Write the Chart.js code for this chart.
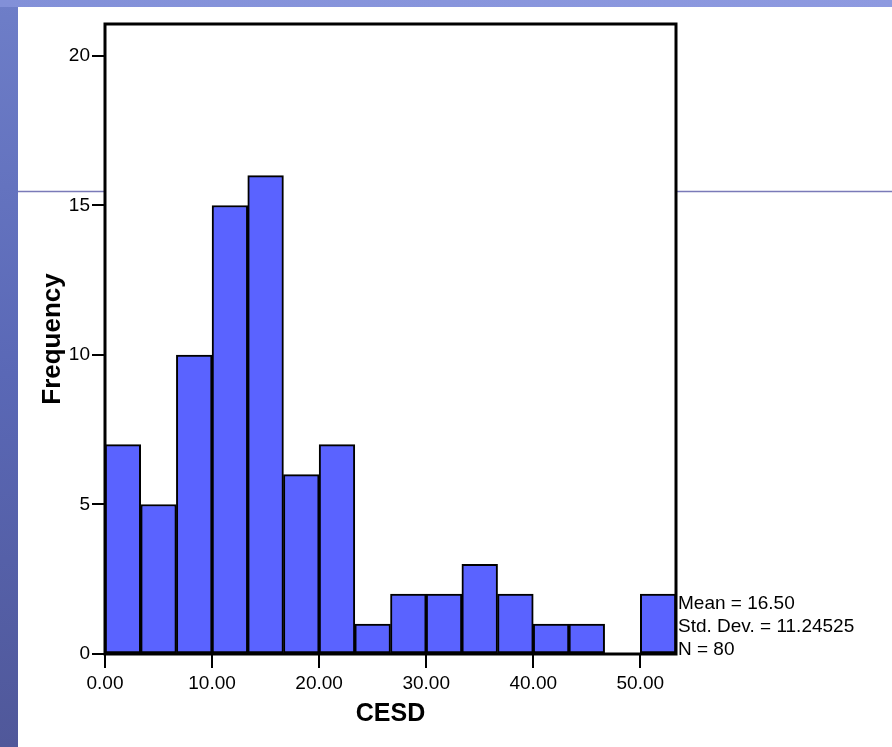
<!DOCTYPE html>
<html>
<head>
<meta charset="utf-8">
<script src="https://cdn.jsdelivr.net/npm/chart.js@4/dist/chart.umd.min.js"></script>
<style>
html,body{margin:0;padding:0;background:#fff;}
canvas{display:block;}
</style>
</head>
<body>
<canvas id="c" width="892" height="747"></canvas>
<script>
// ---- data ----
const binWidth = 10 / 3;
const frequencies = [7, 5, 10, 15, 16, 6, 7, 1, 2, 2, 3, 2, 1, 1, 0, 2];
const xTickValues = [0, 10, 20, 30, 40, 50];
const yTickValues = [0, 5, 10, 15, 20];
const statsLines = ['Mean = 16.50', 'Std. Dev. = 11.24525', 'N = 80'];
const xTitle = 'CESD';
const yTitle = 'Frequency';

const binCenters = frequencies.map((_, i) => (i + 0.5) * binWidth);
const points = frequencies.map((f, i) => ({ x: binCenters[i], y: f }));

const FONT = '"Liberation Sans", Arial, sans-serif';

const backgroundPlugin = {
  id: 'bg',
  beforeDraw(chart) {
    const ctx = chart.ctx;
    const W = chart.width, H = chart.height;
    ctx.save();
    ctx.fillStyle = '#ffffff';
    ctx.fillRect(0, 0, W, H);
    const g = ctx.createLinearGradient(0, 0, 0, H);
    g.addColorStop(0, '#6e7ec8');
    g.addColorStop(0.5, '#5a68b6');
    g.addColorStop(1, '#50589a');
    ctx.fillStyle = g;
    ctx.fillRect(0, 0, 18, H);
    const g2 = ctx.createLinearGradient(0, 0, W, 0);
    g2.addColorStop(0, '#8290d8');
    g2.addColorStop(1, '#8e9ae0');
    ctx.fillStyle = g2;
    ctx.fillRect(0, 0, W, 7);
    ctx.strokeStyle = '#7a7ab8';
    ctx.lineWidth = 1.5;
    ctx.beginPath();
    ctx.moveTo(18, 191.5); ctx.lineTo(chart.chartArea.left, 191.5);
    ctx.moveTo(chart.chartArea.right, 191.5); ctx.lineTo(W, 191.5);
    ctx.stroke();
    ctx.restore();
  },
  afterDatasetsDraw(chart) {
    const ctx = chart.ctx;
    const a = chart.chartArea;
    ctx.save();
    ctx.strokeStyle = '#000';
    ctx.lineWidth = 3;
    ctx.strokeRect(a.left, a.top, a.right - a.left, a.bottom - a.top);
    ctx.fillStyle = '#000';
    ctx.font = '19px ' + FONT;
    ctx.textBaseline = 'middle';
    ctx.textAlign = 'left';
    statsLines.forEach((t, i) => {
      ctx.fillText(t, a.right + 2, 603.5 + i * 23);
    });
    ctx.restore();
  }
};

new Chart(document.getElementById('c'), {
  type: 'bar',
  data: {
    datasets: [{
      data: points,
      backgroundColor: '#5a63ff',
      borderColor: '#000000',
      borderWidth: 2,
      borderSkipped: false,
      barPercentage: 1,
      categoryPercentage: 1
    }]
  },
  options: {
    responsive: false,
    animation: false,
    devicePixelRatio: 1,
    layout: { padding: { left: 0, top: 24, right: 216, bottom: 0 } },
    plugins: { legend: { display: false }, tooltip: { enabled: false } },
    scales: {
      x: {
        type: 'linear',
        min: 0,
        max: frequencies.length * binWidth,
        offset: false,
        afterBuildTicks(s) { s.ticks = xTickValues.map(v => ({ value: v })); },
        afterFit(s) { s.height = 93; },
        grid: { offset: false, drawOnChartArea: false, drawTicks: true, tickLength: 14, color: '#000', lineWidth: 2 },
        border: { display: false },
        ticks: {
          color: '#000', padding: 4, maxRotation: 0, autoSkip: false,
          font: { family: FONT, size: 19 },
          callback: v => Number(v).toFixed(2)
        },
        title: {
          display: true, text: xTitle, color: '#000',
          font: { family: FONT, size: 25, weight: 'bold' },
          padding: { top: 0, bottom: 18 }
        }
      },
      y: {
        min: 0,
        max: 21.07,
        afterBuildTicks(s) { s.ticks = yTickValues.map(v => ({ value: v })); },
        afterFit(s) { s.width = 105; },
        grid: { drawOnChartArea: false, drawTicks: true, tickLength: 13, color: '#000', lineWidth: 2 },
        border: { display: false },
        ticks: {
          color: '#000', padding: 2,
          font: { family: FONT, size: 19 }
        },
        title: {
          display: true, text: yTitle, color: '#000',
          font: { family: FONT, size: 26, weight: 'bold' },
          padding: { top: 37, bottom: 0 }
        }
      }
    }
  },
  plugins: [backgroundPlugin]
});
</script>
</body>
</html>
